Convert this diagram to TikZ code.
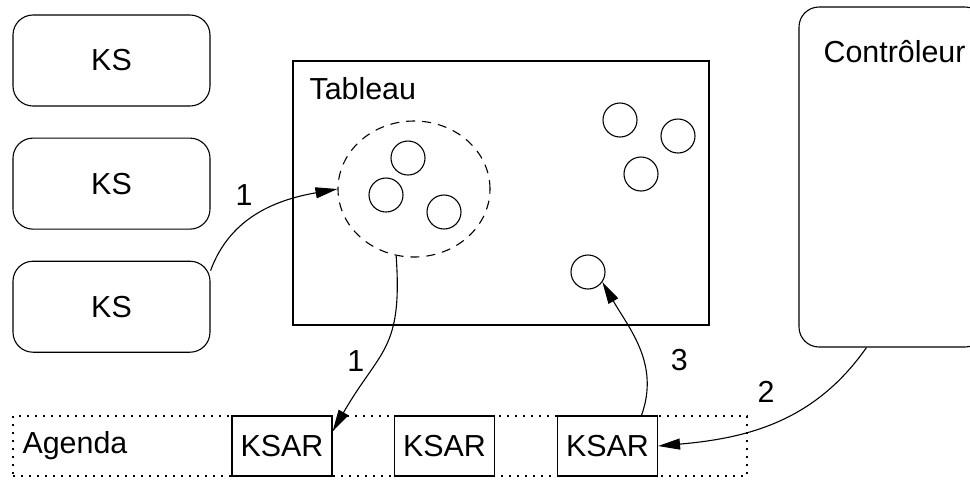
\documentclass[tikz,border=0pt]{standalone}
\usepackage{fontspec}
\setmainfont{Liberation Sans}
\usepackage{tikz}
\usetikzlibrary{positioning,arrows.meta,shapes.geometric,calc}

\begin{document}
\begin{tikzpicture}[
  x=0.5pt,y=-0.5pt,
  font=\fontsize{15.2}{18}\selectfont,
  line width=0.55pt,
  ksbox/.style={draw,rounded corners=10pt,minimum width=98.5pt,minimum height=45.5pt,inner sep=0pt},
  board/.style={draw,minimum width=208pt,minimum height=132pt,inner sep=0pt},
  group/.style={draw,dash pattern=on 4.5pt off 3.5pt,ellipse,minimum width=76pt,minimum height=68pt,inner sep=0pt},
  fact/.style={draw,circle,minimum size=17pt,inner sep=0pt},
  ctrlbox/.style={draw,rounded corners=10pt,minimum width=93pt,minimum height=170pt,inner sep=0pt},
  agendabox/.style={draw,dash pattern=on 1pt off 3pt,minimum width=367pt,minimum height=30pt,inner sep=0pt},
  ksar/.style={draw,minimum width=50pt,minimum height=30pt,inner sep=0pt},
  title/.style={anchor=base west,inner sep=0pt},
  arr/.style={-{Triangle[length=11pt,width=5.5pt]}},
  node distance=15.5pt]
  \clip (0,0) rectangle (970,479);
  % knowledge sources
  \node[ksbox] (ks1) at (111.5,60.5) {KS};
  \node[ksbox,below=of ks1] (ks2) {KS};
  \node[ksbox,below=of ks2] (ks3) {KS};
  % blackboard
  \node[board] (tab) at (501,193) {};
  \node[title] (tablbl) at (309,99) {Tableau};
  \node[group] (grp) at (414,189) {};
  \node[fact] (f1) at (408,158) {};
  \node[fact] (f2) at (386,195) {};
  \node[fact] (f3) at (444,212) {};
  \node[fact] (f4) at (620,120) {};
  \node[fact] (f5) at (678,136) {};
  \node[fact] (f6) at (641,174) {};
  \node[fact] (f7) at (588,272) {};
  % controller
  \node[ctrlbox] (ctrl) at (892,177) {};
  \node[title] (ctrllbl) at (823,62) {Contrôleur};
  % agenda
  \node[agendabox] (agenda) at (380,446) {};
  \node[title] (aglbl) at (22,453) {Agenda};
  \node[ksar] (ksar1) at (282,446) {KSAR};
  \node[ksar] (ksar2) at (444.5,446) {KSAR};
  \node[ksar] (ksar3) at (607.5,446) {KSAR};
  % arrows
  \draw[arr] (ks3.20) to[out=70,in=190] node[pos=0.5,above left=0pt] {1} (grp.west);
  \draw[arr] (grp.255) to[out=-86,in=60,looseness=1.3] node[pos=0.6,left=3pt] {1} (ksar1.16);
  \draw[arr] (ksar3.42) to[out=70,in=-60] node[pos=0.4,right=10pt] {3} (f7.-35);
  \draw[arr] ($(ctrl.south west)+(68,0)$) to[out=-125,in=5] node[pos=0.55,above=8pt] {2} (ksar3.east);
\end{tikzpicture}
\end{document}
